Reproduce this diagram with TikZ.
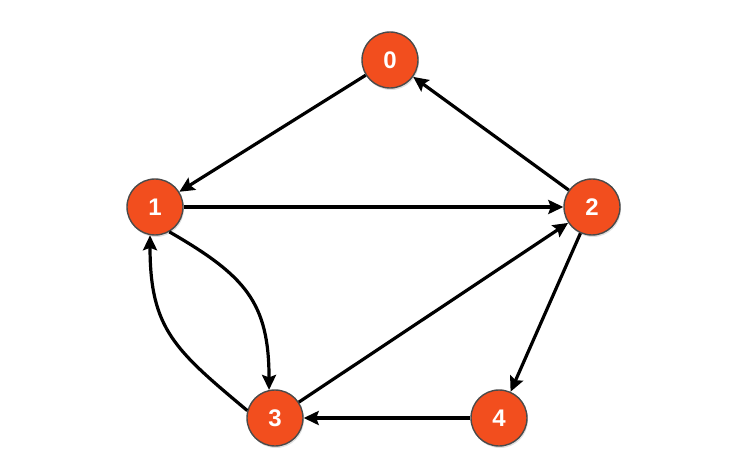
\documentclass[tikz,border=0pt]{standalone}
\usepackage{fontspec}
\setmainfont{Liberation Sans}
\usepackage{tikz}
\usetikzlibrary{arrows.meta,shadows}
\definecolor{nodec}{HTML}{F24E1E}
\definecolor{rimc}{HTML}{4A4A4A}
\tikzset{
  ar/.style={-{Stealth[length=15pt,width=14pt,inset=2.5pt]},line width=3.2pt,black},
  vert/.style={circle,draw=rimc,line width=1.4pt,fill=nodec,minimum size=56pt,inner sep=0pt,
    text=white,font=\fontsize{24}{27}\selectfont\bfseries,
    drop shadow={opacity=0.25,shadow xshift=1pt,shadow yshift=-2pt}}
}
\begin{document}
\begin{tikzpicture}[x=1pt,y=1pt]
\useasboundingbox (0,0) rectangle (743,474);
% vertices
\node[vert] (v0) at (390,414) {0};
\node[vert] (v1) at (155,267) {1};
\node[vert] (v2) at (592,267) {2};
\node[vert] (v3) at (275,56) {3};
\node[vert] (v4) at (499,56) {4};
% edges
\draw[ar] (v0) -- (v1);
\draw[ar] (v2) -- (v0);
\draw[ar] (v1) -- (v2);
\draw[ar] (v3) -- (v2);
\draw[ar] (v2) -- (v4);
\draw[ar] (v4) -- (v3);
\draw[ar] (v1.-60) to[out=-30,in=90,looseness=1.2] (v3.102);
\draw[ar] (v3.165) to[out=140,in=-90,looseness=1.2] (v1.-100);
\end{tikzpicture}
\end{document}
